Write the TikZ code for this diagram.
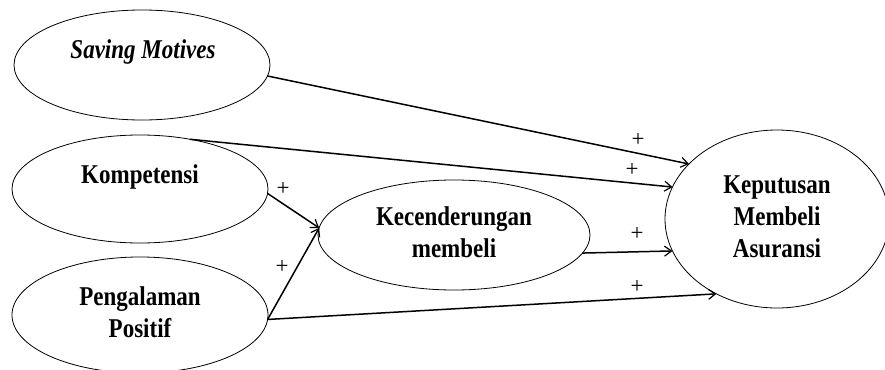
\documentclass[tikz,border=0pt]{standalone}
\usepackage{fontspec}
\usepackage{graphicx}
\setmainfont{Liberation Serif}
\usetikzlibrary{shapes.geometric,arrows.meta}
\newcommand\talltext[1]{\scalebox{1}[1.18]{\begin{tabular}{@{}c@{}}#1\end{tabular}}}
\begin{document}
\begin{tikzpicture}[x=1pt,y=-1pt,
  ell/.style={draw,ellipse,line width=0.8pt,inner sep=0pt,outer sep=0pt},
  lbl/.style={font=\fontsize{23}{27}\selectfont\bfseries,align=center,inner sep=0pt},
  conn/.style={line width=1.5pt,-{Straight Barb[length=7pt,width=10pt,line width=1.2pt]}},
  plus/.style={font=\fontsize{23}{23}\selectfont,inner sep=0pt}]
\useasboundingbox (0,0) rectangle (885,369);
\node[ell,minimum width=256pt,minimum height=110pt] (sm) at (142,65) {};
\node[lbl,font=\fontsize{23}{27}\selectfont\bfseries\itshape] (smt) at (143,52) {\talltext{Saving Motives}};
\node[ell,minimum width=256pt,minimum height=108pt] (km) at (140,189) {};
\node[lbl] (kmt) at (140,177) {\talltext{Kompetensi}};
\node[ell,minimum width=256pt,minimum height=116pt,lbl] (pp) at (140,315) {\talltext{Pengalaman\\Positif}};
\node[ell,minimum width=272pt,minimum height=110pt,lbl] (kc) at (454,235) {\talltext{Kecenderungan\\membeli}};
\node[ell,minimum width=224pt,minimum height=178pt,lbl] (kp) at (777,219) {\talltext{Keputusan\\Membeli\\Asuransi}};
\draw[conn] (sm.-5) -- (kp.148);
\draw[conn] (km.45) -- (kp.163);
\draw[conn] (km.-2) -- (kc.177);
\draw[conn] (pp.-2) -- (kc.177);
\draw[conn] (kc.-8) -- (kp.197);
\draw[conn] (pp.-2) -- (kp.231);
\node[plus] (p1) at (638,140) {+};
\node[plus] (p2) at (632,170) {+};
\node[plus] (p3) at (283,189) {+};
\node[plus] (p4) at (282,267) {+};
\node[plus] (p5) at (637,234) {+};
\node[plus] (p6) at (637,287) {+};
\end{tikzpicture}
\end{document}
